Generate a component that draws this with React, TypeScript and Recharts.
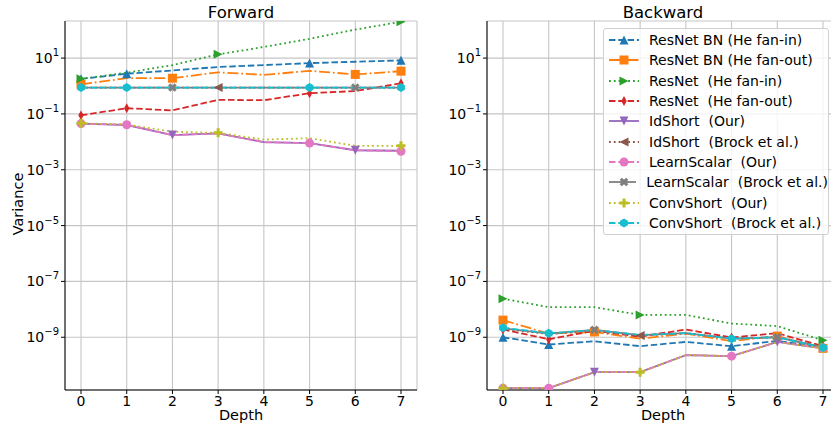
import React from 'react';
import {
  LineChart,
  Line,
  XAxis,
  YAxis,
  CartesianGrid,
  Legend
} from 'recharts';

const DEPTH = [0, 1, 2, 3, 4, 5, 6, 7];
const X_TICKS = [0, 1, 2, 3, 4, 5, 6, 7];
const Y_TICKS = [1e-9, 1e-7, 1e-5, 1e-3, 1e-1, 1e1];

// Forward variance per depth
const FWD_BN_IN = [1.8, 2.75, 3.6, 4.8, 5.6, 6.6, 7.4, 8.3];
const FWD_BN_OUT = [1.15, 1.9, 1.9, 3.1, 2.5, 3.5, 2.6, 3.4];
const FWD_RES_IN = [1.8, 3.0, 5.6, 13.6, 25, 49, 105, 200];
const FWD_RES_OUT = [0.089, 0.16, 0.134, 0.32, 0.31, 0.55, 0.66, 1.25];
const FWD_ID_OUR = [0.045, 0.04, 0.0174, 0.02, 0.0098, 0.009, 0.005, 0.0048];
const FWD_ID_BROCK = [0.88, 0.88, 0.88, 0.88, 0.88, 0.88, 0.88, 0.88];
const FWD_LS_OUR = [0.045, 0.041, 0.0175, 0.02, 0.0097, 0.009, 0.005, 0.0046];
const FWD_LS_BROCK = [0.88, 0.88, 0.88, 0.88, 0.88, 0.88, 0.88, 0.88];
const FWD_CS_OUR = [0.046, 0.042, 0.023, 0.021, 0.012, 0.0135, 0.0072, 0.0072];
const FWD_CS_BROCK = [0.88, 0.88, 0.88, 0.88, 0.88, 0.88, 0.88, 0.88];

// Backward variance per depth
const BWD_BN_IN = [1.0e-9, 5.5e-10, 7.2e-10, 4.8e-10, 6.8e-10, 4.8e-10, 7.4e-10, 4.5e-10];
const BWD_BN_OUT = [4.1e-9, 1.35e-9, 1.55e-9, 8.9e-10, 1.35e-9, 7.2e-10, 1.1e-9, 4.0e-10];
const BWD_RES_IN = [2.4e-8, 1.2e-8, 1.2e-8, 6.3e-9, 6.3e-9, 3.1e-9, 2.5e-9, 7.8e-10];
const BWD_RES_OUT = [1.9e-9, 8.5e-10, 1.7e-9, 1.05e-9, 1.9e-9, 9.8e-10, 1.4e-9, 4.8e-10];
const BWD_ID_OUR = [1.5e-11, 1.5e-11, 5.6e-11, 5.6e-11, 2.3e-10, 2.1e-10, 6.8e-10, 4.0e-10];
const BWD_ID_BROCK = [2.0e-9, 1.3e-9, 1.8e-9, 1.15e-9, 1.4e-9, 9.0e-10, 1.0e-9, 4.4e-10];
const BWD_LS_OUR = [1.5e-11, 1.5e-11, 5.6e-11, 5.6e-11, 2.3e-10, 2.1e-10, 6.8e-10, 4.0e-10];
const BWD_LS_BROCK = [2.1e-9, 1.35e-9, 1.85e-9, 1.2e-9, 1.4e-9, 9.0e-10, 1.0e-9, 4.4e-10];
const BWD_CS_OUR = [1.5e-11, 1.5e-11, 5.6e-11, 5.6e-11, 2.3e-10, 2.1e-10, 6.8e-10, 4.0e-10];
const BWD_CS_BROCK = [2.2e-9, 1.4e-9, 1.8e-9, 1.2e-9, 1.4e-9, 8.9e-10, 1.0e-9, 4.3e-10];

const FWD = [FWD_BN_IN, FWD_BN_OUT, FWD_RES_IN, FWD_RES_OUT, FWD_ID_OUR, FWD_ID_BROCK, FWD_LS_OUR, FWD_LS_BROCK, FWD_CS_OUR, FWD_CS_BROCK];
const BWD = [BWD_BN_IN, BWD_BN_OUT, BWD_RES_IN, BWD_RES_OUT, BWD_ID_OUR, BWD_ID_BROCK, BWD_LS_OUR, BWD_LS_BROCK, BWD_CS_OUR, BWD_CS_BROCK];

const DASHED = '6.5 2.8';
const DASHDOT = '11 2.8 1.8 2.8';
const DOTTED = '1.8 3';

const SERIES = [
  { key: 's0', label: 'ResNet BN (He fan-in)', color: '#1f77b4', dash: DASHED, shape: 'tu', marks: [0, 1, 5, 7] },
  { key: 's1', label: 'ResNet BN (He fan-out)', color: '#ff7f0e', dash: DASHDOT, shape: 'sq', marks: [0, 2, 6, 7] },
  { key: 's2', label: 'ResNet  (He fan-in)', color: '#2ca02c', dash: DOTTED, shape: 'tr', marks: [0, 3, 7] },
  { key: 's3', label: 'ResNet  (He fan-out)', color: '#d62728', dash: DASHED, shape: 'dm', marks: [0, 1, 5, 7] },
  { key: 's4', label: 'IdShort  (Our)', color: '#9467bd', dash: undefined, shape: 'td', marks: [2, 6] },
  { key: 's5', label: 'IdShort  (Brock et al.)', color: '#8c564b', dash: DOTTED, shape: 'tl', marks: [3] },
  { key: 's6', label: 'LearnScalar  (Our)', color: '#e377c2', dash: DASHED, shape: 'ci', marks: [0, 1, 5, 7] },
  { key: 's7', label: 'LearnScalar  (Brock et al.)', color: '#7f7f7f', dash: undefined, shape: 'xx', marks: [2, 6] },
  { key: 's8', label: 'ConvShort  (Our)', color: '#bcbd22', dash: DOTTED, shape: 'pl', marks: [0, 3, 7] },
  { key: 's9', label: 'ConvShort  (Brock et al.)', color: '#17becf', dash: DASHED, shape: 'hx', marks: [0, 1, 5, 7] }
];

const buildRows = (sets: number[][]) =>
  DEPTH.map((d, i) => {
    const row: any = { depth: d };
    SERIES.forEach((s, j) => { row[s.key] = sets[j][i]; });
    return row;
  });

const FWD_ROWS = buildRows(FWD);
const BWD_ROWS = buildRows(BWD);

const FONT = '"DejaVu Sans", sans-serif';
const Y_DOMAIN = [1.29e-11, 213];
const X_DOMAIN = [-0.35, 7.35];
const M = 9;

const poly = (pts: number[][], cx: number, cy: number) =>
  pts.map(p => `${cx + p[0]},${cy + p[1]}`).join(' ');

const drawMarker = (shape: string, cx: number, cy: number, color: string) => {
  const h = M / 2;
  switch (shape) {
    case 'tu': return <polygon points={poly([[0, -h], [-h, h], [h, h]], cx, cy)} fill={color} />;
    case 'td': return <polygon points={poly([[0, h], [-h, -h], [h, -h]], cx, cy)} fill={color} />;
    case 'tr': return <polygon points={poly([[h, 0], [-h, -h], [-h, h]], cx, cy)} fill={color} />;
    case 'tl': return <polygon points={poly([[-h, 0], [h, -h], [h, h]], cx, cy)} fill={color} />;
    case 'sq': return <rect x={cx - h} y={cy - h} width={M} height={M} fill={color} />;
    case 'dm': return <polygon points={poly([[0, -h * 1.1], [h * 0.6, 0], [0, h * 1.1], [-h * 0.6, 0]], cx, cy)} fill={color} />;
    case 'ci': return <circle cx={cx} cy={cy} r={h} fill={color} />;
    case 'pl':
    case 'xx': {
      const a = M / 6;
      const b = h;
      const base = [[-a, -b], [a, -b], [a, -a], [b, -a], [b, a], [a, a], [a, b], [-a, b], [-a, a], [-b, a], [-b, -a], [-a, -a]];
      const pts = shape === 'pl' ? base : base.map(([x, y]) => [(x - y) * 0.72, (x + y) * 0.72]);
      return <polygon points={poly(pts, cx, cy)} fill={color} />;
    }
    case 'hx': {
      const pts = [0, 1, 2, 3, 4, 5].map(k => {
        const ang = (Math.PI / 3) * k - Math.PI / 2;
        return [Math.cos(ang) * h, Math.sin(ang) * h];
      });
      return <polygon points={poly(pts, cx, cy)} fill={color} />;
    }
    default: return null;
  }
};

const makeDot = (s: typeof SERIES[number]) => (p: any) => {
  const k = `${s.key}-${p.index}`;
  if (!s.marks.includes(p.index) || p.cx == null || p.cy == null) return <g key={k} />;
  return <g key={k}>{drawMarker(s.shape, p.cx, p.cy, s.color)}</g>;
};

const PowTick = (props: any) => {
  const { x, y, payload } = props;
  const e = Math.round(Math.log10(payload.value));
  const exp = e < 0 ? '\u2212' + -e : String(e);
  return (
    <text x={x} y={y + 5} textAnchor="end" fontSize={14} fontFamily={FONT} fill="#000">
      10<tspan dy={-7} fontSize={10}>{exp}</tspan>
    </text>
  );
};

const LegendBox = () => (
  <div style={{
    background: 'rgba(255,255,255,0.8)',
    border: '1px solid #d0d0d0',
    borderRadius: 3,
    padding: '1px 0',
    fontFamily: FONT,
    fontSize: 14,
    color: '#000'
  }}>
    {SERIES.map(s => (
      <div key={s.key} style={{ display: 'flex', alignItems: 'center', height: 20.3, whiteSpace: 'pre' }}>
        <svg width={30} height={12} style={{ marginLeft: 5, marginRight: 10 }}>
          <line x1={0} y1={6} x2={30} y2={6} stroke={s.color} strokeWidth={1.8} strokeDasharray={s.dash} />
          {drawMarker(s.shape, 15, 6, s.color)}
        </svg>
        <span>{s.label}</span>
      </div>
    ))}
  </div>
);

type PanelProps = { rows: any[]; width: number; withLegend?: boolean };

const Panel = ({ rows, width, withLegend }: PanelProps) => (
  <LineChart width={width} height={429} data={rows} margin={{ top: 21, right: width === 419 ? 2 : 3, bottom: 0, left: 15 }}>
    <CartesianGrid stroke="#c6c6c6" strokeWidth={1.1} />
    <XAxis
      dataKey="depth"
      type="number"
      domain={X_DOMAIN}
      ticks={X_TICKS}
      allowDataOverflow
      height={39}
      tickSize={4}
      tickMargin={2}
      stroke="#000"
      tick={{ fill: '#000', fontSize: 14, fontFamily: FONT }}
    />
    <XAxis xAxisId="top" dataKey="depth" type="number" domain={X_DOMAIN} allowDataOverflow orientation="top" height={0} tick={false} tickLine={false} stroke="#000" />
    <YAxis
      type="number"
      scale="log"
      domain={Y_DOMAIN}
      ticks={Y_TICKS}
      allowDataOverflow
      width={50}
      tickSize={4}
      tickMargin={2}
      stroke="#000"
      tick={<PowTick />}
    />
    <YAxis yAxisId="right" type="number" scale="log" domain={Y_DOMAIN} allowDataOverflow orientation="right" width={0} tick={false} tickLine={false} stroke="#000" />
    {SERIES.map(s => (
      <Line
        key={s.key}
        dataKey={s.key}
        type="linear"
        stroke={s.color}
        strokeWidth={1.8}
        strokeDasharray={s.dash}
        dot={makeDot(s)}
        activeDot={false}
        isAnimationActive={false}
      />
    ))}
    {withLegend && (
      <Legend
        layout="vertical"
        align="center"
        verticalAlign="middle"
        content={() => <LegendBox />}
        wrapperStyle={{ top: 28, left: 181, width: 226, height: 'auto' }}
      />
    )}
  </LineChart>
);

const Title = ({ text, x, y, size, rotate }: { text: string; x: number; y: number; size: number; rotate?: boolean }) => (
  <div style={{
    position: 'absolute',
    left: x,
    top: y,
    transform: `translate(-50%, -50%)${rotate ? ' rotate(-90deg)' : ''}`,
    fontFamily: FONT,
    fontSize: size,
    whiteSpace: 'nowrap',
    color: '#000'
  }}>{text}</div>
);

export default function App() {
  return (
    <div style={{ position: 'absolute', left: 0, top: 0, width: 831, height: 429, overflow: 'hidden', background: '#fff' }}>
      <div style={{ position: 'absolute', left: 0, top: 0 }}>
        <Panel rows={FWD_ROWS} width={419} />
      </div>
      <div style={{ position: 'absolute', left: 422, top: 0 }}>
        <Panel rows={BWD_ROWS} width={420} withLegend />
      </div>
      <Title text="Forward" x={241} y={12} size={16.5} />
      <Title text="Backward" x={663} y={12} size={16.5} />
      <Title text="Depth" x={241} y={415} size={14.5} />
      <Title text="Depth" x={663} y={415} size={14.5} />
      <Title text="Variance" x={18} y={204} size={14.5} rotate />
    </div>
  );
}
